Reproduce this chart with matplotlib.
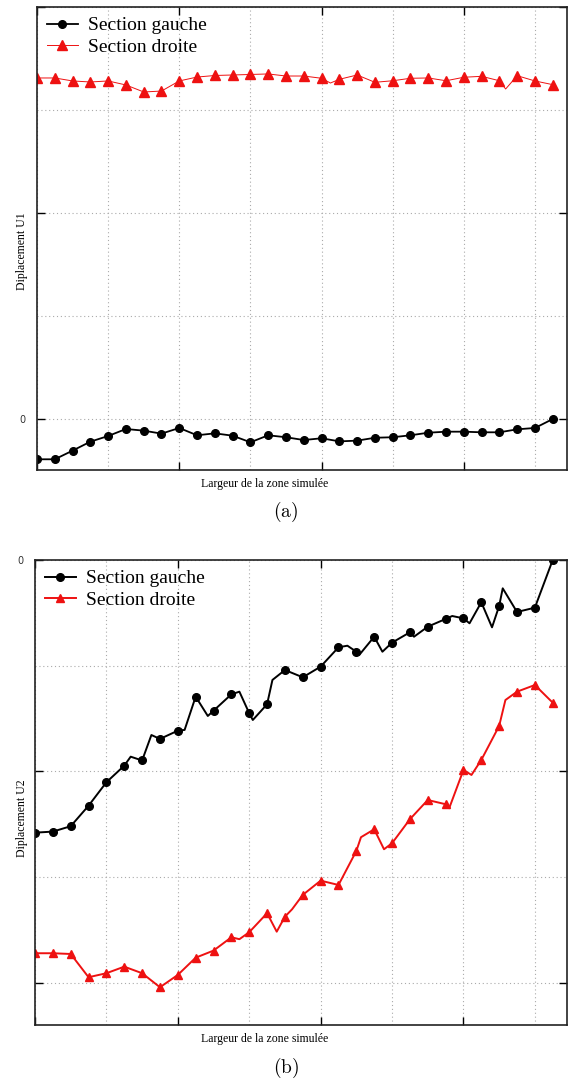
import matplotlib
matplotlib.use("Agg")
import matplotlib.pyplot as plt
import numpy as np

# Noeuds le long de la largeur de la zone simulée
x = np.arange(30)

# (a) Déplacement U1
u1_gauche = [-0.391, -0.391, -0.307, -0.220, -0.165, -0.097, -0.113, -0.142, -0.087, -0.158,
             -0.139, -0.162, -0.226, -0.158, -0.177, -0.204, -0.187, -0.217, -0.210, -0.182,
             -0.177, -0.158, -0.133, -0.123, -0.123, -0.129, -0.129, -0.100, -0.087, 0.0]
u1_droite = [3.311, 3.311, 3.282, 3.272, 3.282, 3.243, 3.175, 3.184, 3.282, 3.320,
             3.335, 3.340, 3.345, 3.350, 3.330, 3.330, 3.308, 3.298, 3.340, 3.269,
             3.284, 3.308, 3.311, 3.284, 3.318, 3.327, 3.284, 3.333, 3.282, 3.246]
# points intermédiaires (sans marqueur)
u1_droite_kx = [16.5, 26.35]
u1_droite_ky = [3.262, 3.204]

# (b) Déplacement U2
u2_gauche = [-2.580, -2.570, -2.519, -2.325, -2.103, -1.946, -1.897, -1.693, -1.615, -1.293,
             -1.426, -1.271, -1.450, -1.365, -1.041, -1.110, -1.009, -0.826, -0.868, -0.726,
             -0.782, -0.684, -0.631, -0.558, -0.552, -0.400, -0.435, -0.492, -0.451, 0.0]
u2_gauche_kx = [5.36, 6.52, 8.38, 9.68, 11.45, 12.2, 13.3, 17.5, 18.16, 19.46, 21.23, 23.37, 24.34, 25.6, 26.2]
u2_gauche_ky = [-1.861, -1.656, -1.608, -1.476, -1.246, -1.514, -1.135, -0.811, -0.899, -0.868,
                -0.726, -0.530, -0.599, -0.637, -0.268]
u2_droite = [-3.721, -3.721, -3.728, -3.948, -3.910, -3.848, -3.910, -4.043, -3.926, -3.763,
             -3.696, -3.570, -3.522, -3.342, -3.375, -3.169, -3.034, -3.075, -2.753, -2.548,
             -2.680, -2.453, -2.271, -2.311, -1.987, -1.892, -1.570, -1.246, -1.183, -1.350]
u2_droite_kx = [11.45, 13.54, 14.4, 18.26, 19.55, 23.2, 24.45, 26.35]
u2_droite_ky = [-3.588, -3.517, -3.305, -2.623, -2.737, -2.349, -2.034, -1.325]

labels = ["Section gauche", "Section droite"]
serif = "Liberation Serif"


def fusion(ym, kx, ky):
    """Courbe complète = noeuds + points intermédiaires, triés en x"""
    xs = np.concatenate([x, kx])
    ys = np.concatenate([ym, ky])
    ordre = np.argsort(xs, kind="stable")
    xs, ys = xs[ordre], ys[ordre]
    marques = [i for i, v in enumerate(xs) if float(v).is_integer()]
    return xs, ys, marques


def tracer(ax, yg, yd, kg, kd, lw_g, lw_d, ms_g, ms_d, ylim, yticks):
    xg, yg2, mg = fusion(yg, *kg)
    xd, yd2, md = fusion(yd, *kd)
    ax.plot(xg, yg2, color="black", lw=lw_g, marker="o", ms=ms_g, markevery=mg, label=labels[0])
    ax.plot(xd, yd2, color="#ee1111", lw=lw_d, marker="^", ms=ms_d, markevery=md, label=labels[1])
    ax.set_xlim(0, 29.8)
    ax.set_ylim(*ylim)
    ax.set_xticks([0, 8, 16, 24])
    ax.set_xticklabels([])
    ax.set_xticks(np.arange(0, 30, 4), minor=True)
    ax.set_yticks(yticks)
    ax.set_yticklabels(["0"] + [""] * (len(yticks) - 1), fontsize=7, color="#333333")
    ax.set_yticks(np.arange(np.ceil(ylim[0]), ylim[1] + 0.01, 1), minor=True)
    ax.tick_params(which="major", direction="in", length=6, width=1, top=True, right=True, pad=8)
    ax.tick_params(which="minor", length=0)
    ax.grid(True, which="both", linestyle=(0, (1, 2.5)), color="#aaaaaa", lw=0.8)
    ax.set_axisbelow(True)
    for s in ax.spines.values():
        s.set_linewidth(1.2)
        s.set_color("#222222")
    leg = ax.legend(loc="upper left", frameon=False, prop={"family": serif, "size": 14},
                    handlelength=1.6, handletextpad=0.5, labelspacing=0.2,
                    borderaxespad=0.1, borderpad=0.4)
    return leg


fig = plt.figure(figsize=(5.68, 10.8), dpi=100)
plt.rcParams["mathtext.fontset"] = "cm"

ax1 = fig.add_axes([37 / 568, 1 - 470 / 1080, 530 / 568, 463 / 1080])
tracer(ax1, u1_gauche, u1_droite, ([], []), (u1_droite_kx, u1_droite_ky),
       1.3, 0.7, 5.5, 7, (-0.495, 4.0), [0, 2, 4])

ax2 = fig.add_axes([35 / 568, 1 - 1025 / 1080, 532 / 568, 465 / 1080])
tracer(ax2, u2_gauche, u2_droite, (u2_gauche_kx, u2_gauche_ky), (u2_droite_kx, u2_droite_ky),
       1.4, 1.4, 5.5, 6, (-4.4, 0.0), [0, -2, -4])

# Titres des axes et légendes (a), (b)
fig.text(265 / 568, 1 - 484 / 1080, "Largeur de la zone simulée", family=serif, size=8.5,
         ha="center", va="center")
fig.text(22 / 568, 1 - 251 / 1080, "Diplacement U1", family=serif, size=8.5,
         rotation=90, ha="center", va="center")
fig.text(286 / 568, 1 - 512 / 1080, r"$\mathrm{(a)}$", size=14, ha="center", va="center")

fig.text(265 / 568, 1 - 1039 / 1080, "Largeur de la zone simulée", family=serif, size=8.5,
         ha="center", va="center")
fig.text(22 / 568, 1 - 818 / 1080, "Diplacement U2", family=serif, size=8.5,
         rotation=90, ha="center", va="center")
fig.text(286 / 568, 1 - 1068 / 1080, r"$\mathrm{(b)}$", size=14, ha="center", va="center")

fig.savefig("out.png", dpi=100)
